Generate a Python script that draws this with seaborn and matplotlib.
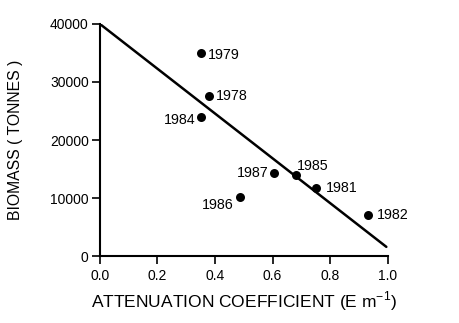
import matplotlib
matplotlib.use("Agg")
import matplotlib.pyplot as plt
import seaborn as sns
import pandas as pd

# Annual observations: light attenuation coefficient vs. biomass
years = ["1979", "1978", "1984", "1987", "1985", "1981", "1986", "1982"]
attenuation = [0.35, 0.38, 0.35, 0.605, 0.683, 0.752, 0.488, 0.932]
biomass = [35000, 27500, 24000, 14400, 14000, 11800, 10200, 7000]

# Fitted regression line endpoints
fit_x = [0.0, 0.995]
fit_y = [40000, 1600]

x_ticks = [0.0, 0.2, 0.4, 0.6, 0.8, 1.0]
y_ticks = [0, 10000, 20000, 30000, 40000]

# label offsets (points) and alignment for each year
label_pos = {
    "1979": ((5, -1.5), "left"),
    "1978": ((5, 0), "left"),
    "1984": ((-4, -2.5), "right"),
    "1987": ((-4, -0.5), "right"),
    "1985": ((0, 6.5), "left"),
    "1981": ((6.5, 0), "left"),
    "1986": ((-5, -6), "right"),
    "1982": ((6.5, 0), "left"),
}

sns.set_theme(style="ticks")
plt.rcParams["font.family"] = ["Liberation Sans", "DejaVu Sans"]

df = pd.DataFrame({"year": years, "att": attenuation, "bio": biomass})
fit = pd.DataFrame({"x": fit_x, "y": fit_y})

fig = plt.figure(figsize=(4.6, 3.23), dpi=100)
ax = fig.add_axes([0.217, 0.207, 0.626, 0.719])

sns.lineplot(data=fit, x="x", y="y", ax=ax, color="black", linewidth=1.8)
sns.scatterplot(data=df, x="att", y="bio", ax=ax, color="black", s=42,
                edgecolor="black", linewidth=0, zorder=3)

for _, row in df.iterrows():
    (dx, dy), ha = label_pos[row["year"]]
    ax.annotate(row["year"], (row["att"], row["bio"]), xytext=(dx, dy),
                textcoords="offset points", ha=ha, va="center",
                fontsize=10.3, color="black")

ax.set_xlim(0, 1.0)
ax.set_ylim(0, 40000)
ax.set_xticks(x_ticks)
ax.set_xticklabels([f"{v:.1f}" for v in x_ticks])
ax.set_yticks(y_ticks)
ax.set_yticklabels([str(v) for v in y_ticks])

for side in ["top", "right"]:
    ax.spines[side].set_visible(False)
for side in ["left", "bottom"]:
    ax.spines[side].set_linewidth(1.5)
    ax.spines[side].set_color("black")

ax.tick_params(axis="both", direction="out", length=6, width=1.2,
               colors="black", labelsize=10)
ax.tick_params(axis="y", pad=2)
ax.tick_params(axis="x", pad=3)

ax.set_xlabel("ATTENUATION COEFFICIENT (E m$^{\\mathregular{-1}}$)",
              fontsize=12.5, labelpad=5, color="black")
ax.set_ylabel("BIOMASS ( TONNES )", fontsize=11.3, labelpad=19,
              color="black")

fig.savefig("out.png", dpi=100, facecolor="white")
